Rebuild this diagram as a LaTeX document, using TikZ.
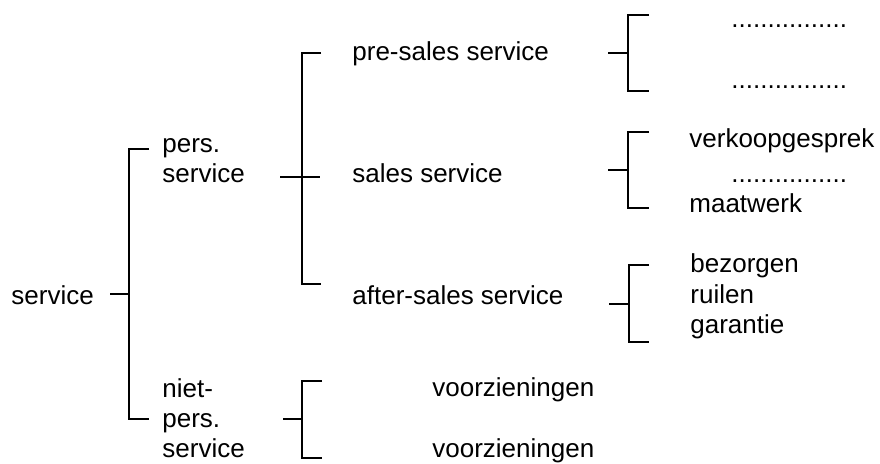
\documentclass[tikz,border=0pt]{standalone}
\usepackage{fontspec}
\setmainfont{Liberation Sans}
\usepackage{tikz}

\begin{document}
\begin{tikzpicture}[x=0.5pt,y=-0.5pt,font=\fontsize{13}{15}\selectfont]
\tikzstyle{txt}=[anchor=base west,inner sep=0pt,align=left]
\tikzstyle{haak}=[line width=0.9pt]

\useasboundingbox (0,0) rectangle (880,464);

% levels, left to right (multi-line nodes sit on their last line)
\node[txt](root) at (11,305){service};
\node[txt](pers) at (162,183){pers.\\service};
\node[txt](nietpers) at (162,458){niet-\\pers.\\service};

\node[txt](presales) at (352,61){pre-sales service};
\node[txt](sales) at (352,183){sales service};
\node[txt](aftersales) at (352,305){after-sales service};
\node[txt](vz1) at (432,397){voorzieningen};
\node[txt](vz2) at (432,458){voorzieningen};

\node[txt](d1) at (731,28){................};
\node[txt](d2) at (731,89){................};
\node[txt](gesprek) at (689,148){verkoopgesprek};
\node[txt](d3) at (731,183){................};
\node[txt](maatwerk) at (689,213){maatwerk};
\node[txt](bezorgen) at (690,273){bezorgen};
\node[txt](ruilen) at (690,304){ruilen};
\node[txt](garantie) at (690,334){garantie};

% brackets: stub start, spine point, top and bottom tick ends
\coordinate (r0) at (110,294);
\coordinate (k0) at (129,294);
\coordinate (k0t) at (149,149);
\coordinate (k0b) at (149,419);
\draw[haak] (r0) -- (k0);
\draw[haak] (k0t) -| (k0) |- (k0b);

\coordinate (r1) at (280,177);
\coordinate (k1) at (302,177);
\coordinate (k1e) at (320,177);
\coordinate (k1t) at (321,53);
\coordinate (k1b) at (321,284);
\draw[haak] (r1) -- (k1e);
\draw[haak] (k1t) -| (k1) |- (k1b);

\coordinate (r5) at (283,419);
\coordinate (k5) at (302,419);
\coordinate (k5t) at (322,381);
\coordinate (k5b) at (322,458);
\draw[haak] (r5) -- (k5);
\draw[haak] (k5t) -| (k5) |- (k5b);

\coordinate (r2) at (608,53);
\coordinate (k2) at (628,53);
\coordinate (k2t) at (649,15);
\coordinate (k2b) at (649,91);
\draw[haak] (r2) -- (k2);
\draw[haak] (k2t) -| (k2) |- (k2b);

\coordinate (r3) at (608,170);
\coordinate (k3) at (628,170);
\coordinate (k3t) at (649,132);
\coordinate (k3b) at (649,208);
\draw[haak] (r3) -- (k3);
\draw[haak] (k3t) -| (k3) |- (k3b);

\coordinate (r4) at (609,304);
\coordinate (k4) at (629,304);
\coordinate (k4t) at (649,265);
\coordinate (k4b) at (649,342);
\draw[haak] (r4) -- (k4);
\draw[haak] (k4t) -| (k4) |- (k4b);
\end{tikzpicture}
\end{document}
